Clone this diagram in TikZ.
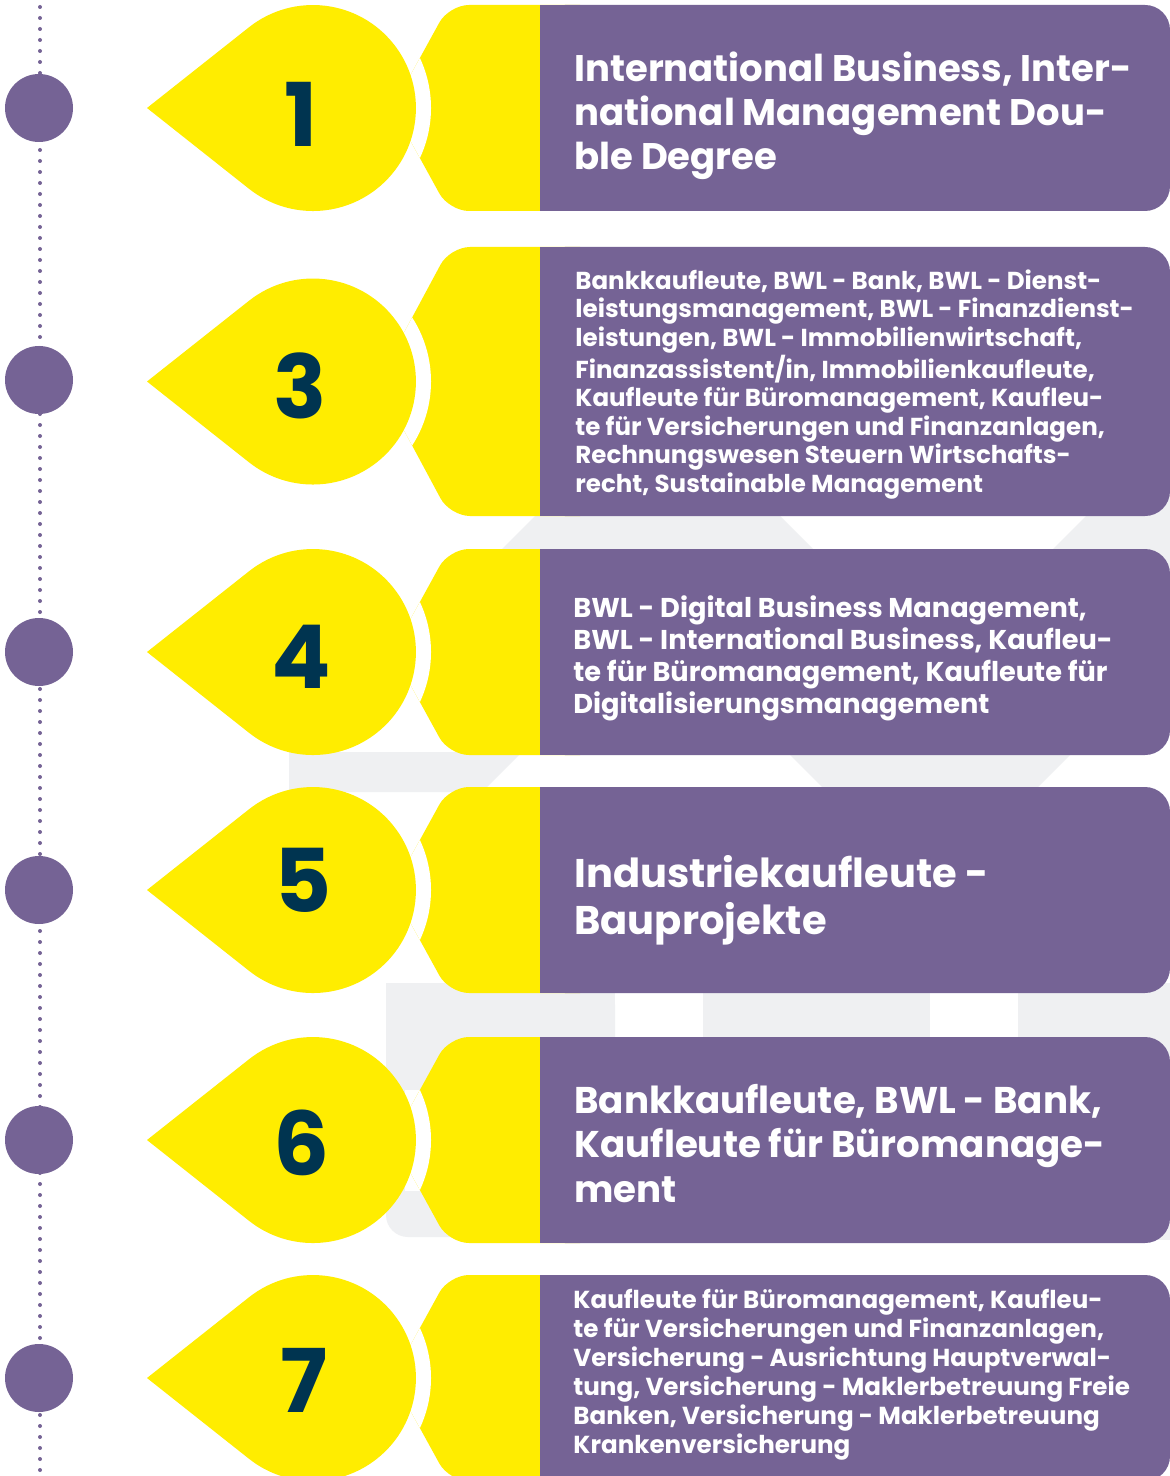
\documentclass[tikz,border=0pt]{standalone}
\usepackage{fontspec}
\setmainfont{Poppins}
\definecolor{purp}{RGB}{117,99,149}
\definecolor{ylw}{RGB}{255,237,0}
\definecolor{navy}{RGB}{0,52,80}
\definecolor{wm}{RGB}{239,240,242}
\tikzset{
  txt/.style={text=white, inner sep=0pt, align=left},
  num/.style={text=navy, inner sep=0pt, font=\bfseries\fontsize{44}{44}\selectfont},
  dotline/.style={purp, line width=2pt, line cap=round, dash pattern=on 0pt off 5.5pt},
}
% #1 top, #2 bottom, #3 centre, #4 notch half-height, #5 corner x
\newcommand\rowshape[5]{%
  \pgfmathsetmacro\nang{asin(#4/118)}%
  \pgfmathsetmacro\nx{313+118*cos(\nang)}%
  \pgfmathsetmacro\px{\nx-(#5-\nx)/(#4-(#3-#1))*(-#4)}%
  \begin{scope}
    \clip (405,#3-#4) rectangle (440,#3+#4);
    \fill[white] (313,#3) circle[radius=118];
  \end{scope}
  \begin{scope}
    \clip[rounded corners=10pt] (600,#1) -- (#5,#1) -- (\px,#3) -- (#5,#2) -- (600,#2) -- cycle;
    \fill[ylw] (300,#1-5) rectangle (600,#2+5);
    \fill[white] (313,#3) circle[radius=118];
  \end{scope}
  \fill[purp,rounded corners=12.5pt] (540,#1) -- (1170,#1) -- (1170,#2) -- (540,#2) -- cycle;
  \fill[purp] (540,#1) rectangle (600,#2);
  \fill[ylw] (147,#3) -- (249.1,#3-80.8) arc[start angle=231.7, end angle=488.3, radius=103] -- cycle;
}
\begin{document}
\begin{tikzpicture}[x=0.5pt,y=-0.5pt]
\useasboundingbox (0,0) rectangle (1170,1476);
\fill[white] (0,0) rectangle (1170,1476);
% faint background watermark
\fill[wm] (561,490) -- (754,490) -- (844,580) -- (471,580) -- cycle;
\fill[wm] (1112,490) -- (1170,490) -- (1170,580) -- (1022,580) -- cycle;
\fill[wm] (289,752) -- (522,752) -- (482,792) -- (289,792) -- cycle;
\fill[wm] (787,752) -- (1073,752) -- (1033,792) -- (827,792) -- cycle;
\fill[wm,rounded corners=11pt] (386,983) rectangle (615,1237);
\fill[wm] (386,983) rectangle (615,1100);
\fill[wm] (703,983) rectangle (930,1240);
\fill[wm] (1018,983) rectangle (1170,1240);
% timeline
\coordinate (ltop) at (40,7);
\coordinate (lbot) at (40,1472);
\draw[dotline] (ltop) -- (lbot);
% rows
\rowshape{5}{211}{108}{50}{449}
\rowshape{247}{516}{381.5}{64}{450}
\rowshape{549}{755}{652}{50}{449}
\rowshape{787}{993}{890}{50}{449}
\rowshape{1037}{1243}{1140}{50}{449}
\rowshape{1275}{1481}{1378}{50}{449}
% timeline circles
\foreach \yy/\nm in {108/c1,380/c3,652/c4,890/c5,1140/c6,1378/c7}
  \fill[purp] (39,\yy) circle[radius=34] coordinate (\nm);
% numbers
\node[num,anchor=base] (n1) at (301,147) {1};
\node[num,anchor=base] (n3) at (300,418) {3};
\node[num,anchor=base] (n4) at (301,688) {4};
\node[num,anchor=base] (n5) at (303,912) {5};
\node[num,anchor=base] (n6) at (302,1175) {6};
\node[num,anchor=base] (n7) at (304,1412) {7};
% texts (base anchor = baseline of last line)
\node[txt,anchor=base west,font=\bfseries\fontsize{18.5}{22}\selectfont] (t1) at (574,170)
 {International Business, Inter-\\national Management Dou-\\ble Degree};
\node[txt,anchor=base west,font=\bfseries\fontsize{12.27}{14.2}\selectfont] (t3) at (575,492)
 {Bankkaufleute, BWL - Bank, BWL - Dienst-\\leistungsmanagement, BWL - Finanzdienst-\\leistungen, BWL - Immobilienwirtschaft,\\Finanzassistent/in, Immobilienkaufleute,\\Kaufleute für Büromanagement, Kaufleu-\\te für Versicherungen und Finanzanlagen,\\Rechnungswesen Steuern Wirtschafts-\\recht, Sustainable Management};
\node[txt,anchor=base west,font=\bfseries\fontsize{13.6}{16}\selectfont] (t4) at (573,713)
 {BWL - Digital Business Management,\\BWL - International Business, Kaufleu-\\te für Büromanagement, Kaufleute für\\Digitalisierungsmanagement};
\node[txt,anchor=base west,font=\bfseries\fontsize{20}{23.5}\selectfont] (t5) at (574,934)
 {Industriekaufleute -\\Bauprojekte};
\node[txt,anchor=base west,font=\bfseries\fontsize{18.6}{22.25}\selectfont] (t6) at (574,1202)
 {Bankkaufleute, BWL - Bank,\\Kaufleute für Büromanage-\\ment};
\node[txt,anchor=base west,font=\bfseries\fontsize{12.3}{14.5}\selectfont] (t7) at (573,1453)
 {Kaufleute für Büromanagement, Kaufleu-\\te für Versicherungen und Finanzanlagen,\\Versicherung - Ausrichtung Hauptverwal-\\tung, Versicherung - Maklerbetreuung Freie\\Banken, Versicherung - Maklerbetreuung\\Krankenversicherung};
\end{tikzpicture}
\end{document}
